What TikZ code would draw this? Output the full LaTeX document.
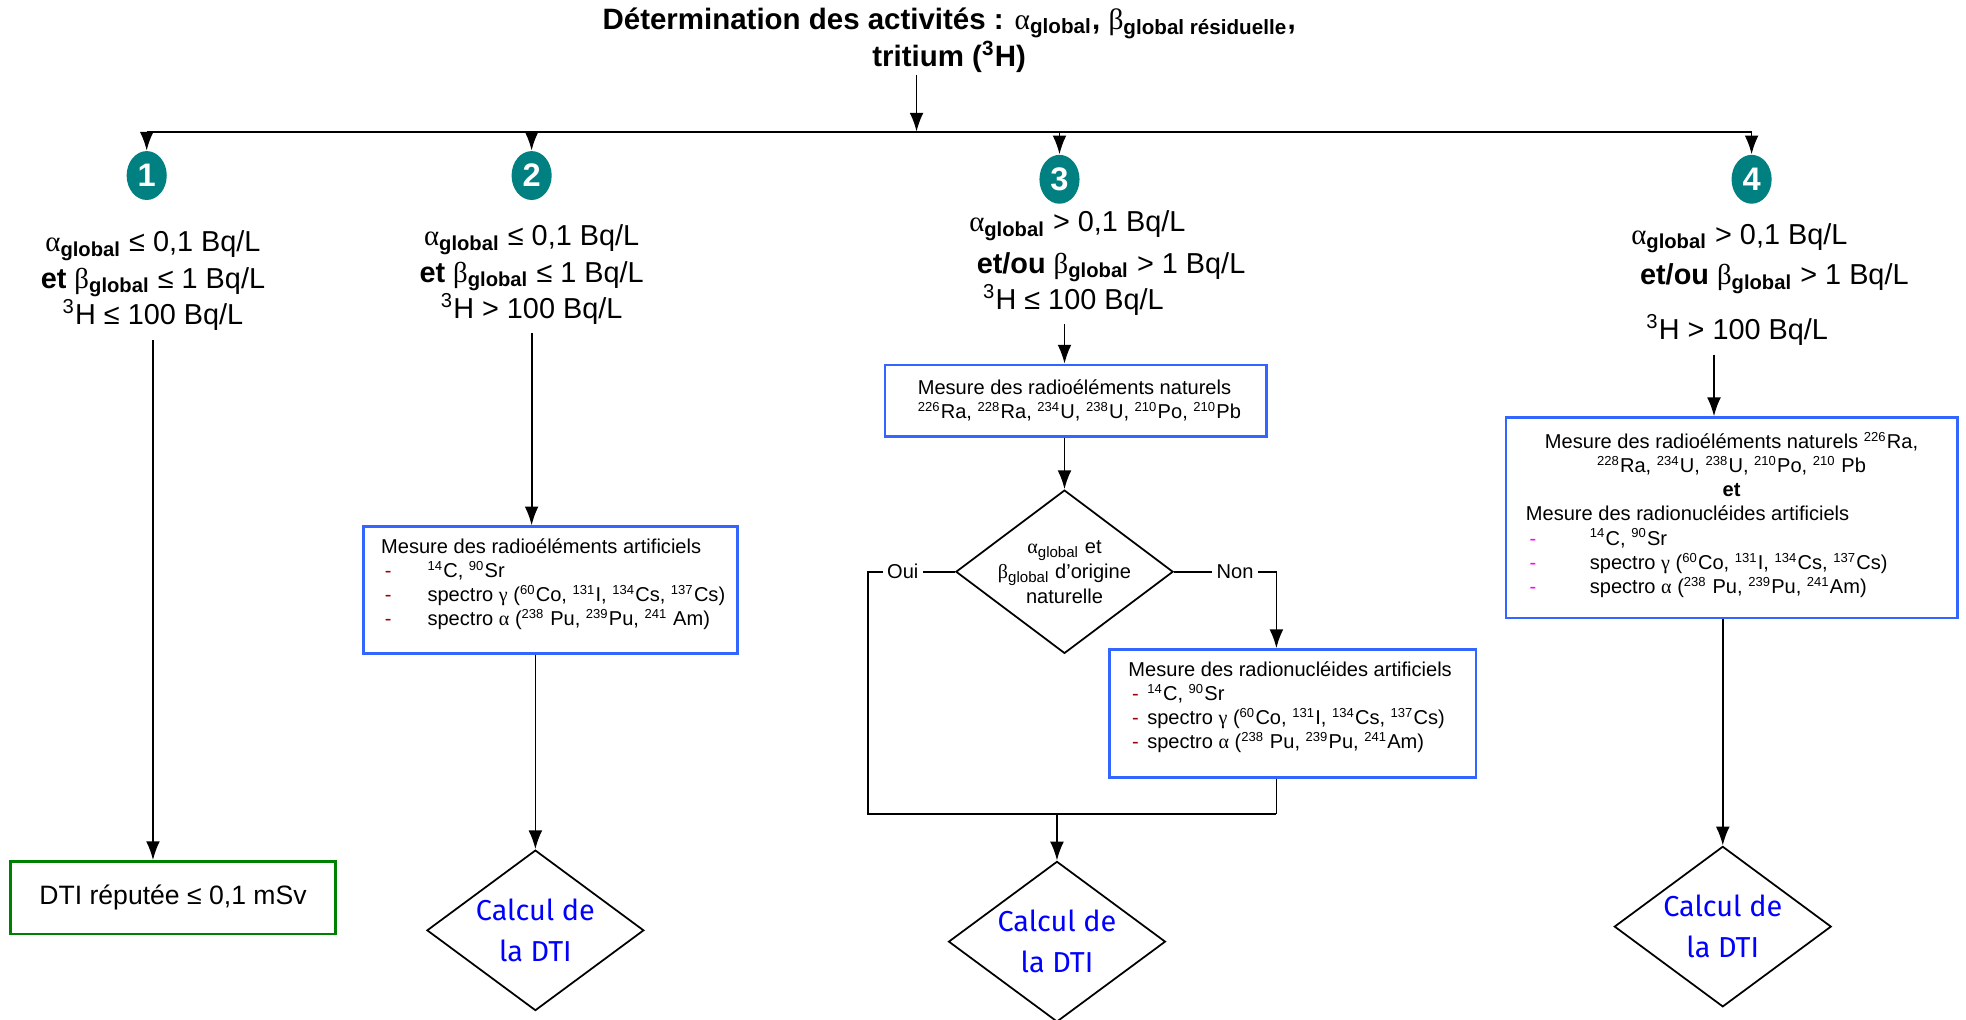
\documentclass[tikz,border=0pt]{standalone}
\usepackage{fontspec}
\setmainfont{Liberation Sans}
\newfontfamily\grk{Liberation Serif}
\newfontfamily\comicfont{Fira Sans}
\usetikzlibrary{shapes,arrows.meta}
\definecolor{numteal}{RGB}{0,128,128}
\definecolor{boxblue}{RGB}{51,102,255}
\definecolor{boxgreen}{RGB}{0,128,0}
\definecolor{dashred}{RGB}{153,0,0}
\definecolor{dashpink}{RGB}{255,0,255}
\definecolor{calcblue}{RGB}{0,0,255}
\newcommand{\aglob}{{\grk α}\textsubscript{\textbf{global}}}
\newcommand{\bglob}{{\grk β}\textsubscript{\textbf{global}}}
\newcommand{\isot}[2]{\textsuperscript{\fontsize{5.2}{6}\selectfont #1}#2}
\newcommand{\puce}[3]{\mbox{\hspace*{1.5pt}\makebox[#1][l]{\textcolor{#2}{-}}#3}}
\tikzstyle{title} = [align=center, font=\fontsize{11.75}{13.5}\selectfont\bfseries]
\tikzstyle{cond} = [align=center, font=\fontsize{11.5}{14.5}\selectfont]
\tikzstyle{num} = [ellipse, fill=numteal, text=white, minimum width=16pt, minimum height=19.5pt, inner sep=0pt, font=\fontsize{13}{13}\selectfont\bfseries]
\tikzstyle{block} = [rectangle, draw=boxblue, line width=1pt, font=\fontsize{8}{9.5}\selectfont]
\tikzstyle{greenblock} = [rectangle, draw=boxgreen, line width=1pt, minimum width=129.5pt, minimum height=29pt, font=\fontsize{10.6}{12}\selectfont]
\tikzstyle{decision} = [diamond, draw, line width=0.7pt, aspect=1.33, inner sep=0pt, minimum width=86pt, minimum height=64.5pt, align=center, font=\fontsize{8}{10}\selectfont]
\tikzstyle{calcul} = [diamond, draw, line width=0.7pt, aspect=1.35, inner sep=0pt, minimum width=86.5pt, minimum height=64pt, align=center, text=calcblue, font=\comicfont\fontsize{11.5}{16.5}\selectfont]
\tikzstyle{tag} = [inner sep=1.5pt, font=\fontsize{8}{9}\selectfont]
\tikzstyle{line} = [draw, line width=0.7pt, -{Latex[length=7.5pt,width=5.5pt]}]
\tikzstyle{wire} = [draw, line width=0.7pt]

\begin{document}
\begin{tikzpicture}[x=0.5pt, y=-0.5pt]
	\useasboundingbox (0,0) rectangle (1568,813);
	% Place nodes
	\node [title] (title) at (757,32) {Détermination des activités : {\mdseries\grk α}\textsubscript{global}, {\mdseries\grk β}\textsubscript{global résiduelle},\\ tritium (\textsuperscript{3}H)};
	\coordinate (top) at (731,60);
	\coordinate (b1) at (117,105);
	\coordinate (b2) at (424,105);
	\coordinate (b3) at (845,105);
	\coordinate (b4) at (1397,105);
	\node [num] (n1) at (117,140) {1};
	\node [num] (n2) at (424,140) {2};
	\node [num] (n3) at (845,143) {3};
	\node [num] (n4) at (1397,143) {4};

	\node [cond] (g1) at (122,224) {\aglob{} ≤ 0,1 Bq/L\\ \textbf{et} \bglob{} ≤ 1 Bq/L\\ \textsuperscript{3}H ≤ 100 Bq/L};
	\node [cond] (g2) at (424,219) {\aglob{} ≤ 0,1 Bq/L\\ \textbf{et} \bglob{} ≤ 1 Bq/L\\ \textsuperscript{3}H > 100 Bq/L};
	\node [cond, align=left, anchor=west, font=\fontsize{11.5}{13}\selectfont] (g3) at (766,210) {\aglob{} > 0,1 Bq/L\\[3.5pt] \hspace*{3pt}\textbf{et/ou} \bglob{} > 1 Bq/L\\ \hspace*{5.5pt}\textsuperscript{3}H ≤ 100 Bq/L};
	\node [cond, align=left, anchor=west, font=\fontsize{11.5}{13}\selectfont] (g4) at (1294,227) {\aglob{} > 0,1 Bq/L\\[3pt] \hspace*{3.5pt}\textbf{et/ou} \bglob{} > 1 Bq/L\\[7.5pt] \hspace*{6pt}\textsuperscript{3}H > 100 Bq/L};

	\node [greenblock] (dti) at (138,716) {DTI réputée ≤ 0,1 mSv};

	\node [block, inner xsep=7pt, inner ysep=5pt] (box2) at (439,470.5) {\begin{minipage}[c][40.5pt][t]{135pt}\raggedright
		Mesure des radioéléments artificiels\\
		\puce{17pt}{dashred}{\isot{14}{C}, \isot{90}{Sr}}\\
		\puce{17pt}{dashred}{spectro {\grk γ} (\isot{60}{Co}, \isot{131}{I}, \isot{134}{Cs}, \isot{137}{Cs})}\\
		\puce{17pt}{dashred}{spectro {\grk α} (\isot{238}{ Pu}, \isot{239}{Pu}, \isot{241}{ Am})}
	\end{minipage}};
	\node [calcul] (d2) at (427,742) {Calcul de\\ la DTI};

	\node [block, inner xsep=13pt, inner ysep=4pt] (box3a) at (858,319.5) {\begin{minipage}[c][20.5pt][c]{126pt}\raggedright
		Mesure des radioéléments naturels\\
		\mbox{\isot{226}{Ra}, \isot{228}{Ra}, \isot{234}{U}, \isot{238}{U}, \isot{210}{Po}, \isot{210}{Pb}}
	\end{minipage}};
	\node [decision] (dec) at (849,456) {{\grk α}\textsubscript{global} et\\ {\grk β}\textsubscript{global} d’origine\\ naturelle};
	\node [tag] (oui) at (720,456) {Oui};
	\node [tag] (non) at (985,456) {Non};
	\coordinate (ouiC) at (692,456);
	\coordinate (nonC) at (1018,456);
	\coordinate (join) at (847,649);
	\node [block, inner xsep=7.5pt, inner ysep=5pt] (box3b) at (1031,569) {\begin{minipage}[c][41pt][t]{131pt}\raggedright
		Mesure des radionucléides artificiels\\
		\puce{6pt}{dashred}{\isot{14}{C}, \isot{90}{Sr}}\\
		\puce{6pt}{dashred}{spectro {\grk γ} (\isot{60}{Co}, \isot{131}{I}, \isot{134}{Cs}, \isot{137}{Cs})}\\
		\puce{6pt}{dashred}{spectro {\grk α} (\isot{238}{ Pu}, \isot{239}{Pu}, \isot{241}{Am})}
	\end{minipage}};
	\node [calcul] (d3) at (843,751) {Calcul de\\ la DTI};

	\node [block, inner xsep=8pt, inner ysep=6pt, font=\fontsize{8}{9.6}\selectfont] (box4) at (1381,413) {\begin{minipage}[c][68pt][t]{164pt}
		{\centering Mesure des radioéléments naturels \isot{226}{Ra},\\
		\isot{228}{Ra}, \isot{234}{U}, \isot{238}{U}, \isot{210}{Po}, \isot{210}{ Pb}\\
		\textbf{et}\par}
		\raggedright
		Mesure des radionucléides artificiels\\
		\puce{24pt}{dashpink}{\isot{14}{C}, \isot{90}{Sr}}\\
		\puce{24pt}{dashpink}{spectro {\grk γ} (\isot{60}{Co}, \isot{131}{I}, \isot{134}{Cs}, \isot{137}{Cs})}\\
		\puce{24pt}{dashpink}{spectro {\grk α} (\isot{238}{ Pu}, \isot{239}{Pu}, \isot{241}{Am})}
	\end{minipage}};
	\node [calcul] (d4) at (1374,739) {Calcul de\\ la DTI};

	% Draw edges
	\path [line] (top) -- (top |- b1);
	\path [wire] (b1) -- (b4);
	\foreach \i in {1,...,4}
		\path [line] (b\i) -- (n\i);
	\path [line] (g1.south) -- (g1.south |- dti.north);
	\path [line] (g2.south) -- (g2.south |- box2.north);
	\path [line] (d2.north |- box2.south) -- (d2.north);
	\path [line] (dec.north |- g3.south) -- (dec.north |- box3a.north);
	\path [line] (dec.north |- box3a.south) -- (dec.north);
	\path [wire] (dec) -- (oui);
	\path [wire] (oui) -- (ouiC) -- (ouiC |- join) -- (nonC |- join);
	\path [wire] (dec) -- (non);
	\path [line] (non) -- (nonC) -- (nonC |- box3b.north);
	\path [wire] (nonC |- box3b.south) -- (nonC |- join);
	\path [line] (d3.north |- join) -- (d3.north);
	\path [line] ([xshift=-3.5pt]d4.north |- g4.south) -- ([xshift=-3.5pt]d4.north |- box4.north);
	\path [line] (d4.north |- box4.south) -- (d4.north);
\end{tikzpicture}
\end{document}
